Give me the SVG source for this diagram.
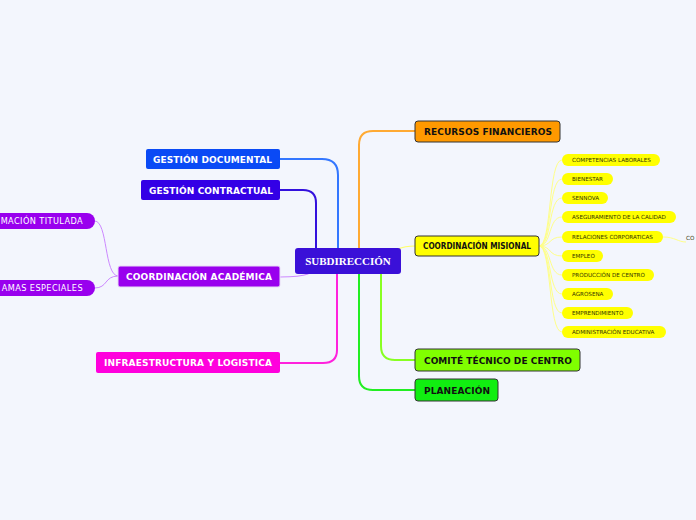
<svg xmlns="http://www.w3.org/2000/svg" width="696" height="520" viewBox="0 0 696 520">
<style>
.bg{fill:#f3f6fd}
.lb{font-family:"DejaVu Sans",Verdana,sans-serif;font-weight:bold;font-size:9px;text-anchor:middle}
.w{fill:#ffffff}
.k{fill:#111111}
.rb{stroke:#333333;stroke-width:1}
.pill{fill:#ffff00}
.pt{font-family:"DejaVu Sans",Verdana,sans-serif;font-size:5.6px;fill:#333300}
.pw{font-family:"DejaVu Sans",Verdana,sans-serif;font-size:8.2px;fill:#ffffff;letter-spacing:0.4px}
.c{fill:none;stroke-linecap:round}
</style>
<rect class="bg" x="0" y="0" width="696" height="520"/>
<g id="connectors">
<path class="c" d="M280,159 H322 Q338,159 338,175 V248" stroke="#3377ff" stroke-width="2"/>
<path class="c" d="M280,190 H303 Q316,190 316,203 V248" stroke="#3311dd" stroke-width="2"/>
<path class="c" d="M415,131 H373 Q359,131 359,145 V248" stroke="#ffaa33" stroke-width="2"/>
<path class="c" d="M398,249 C405,246 410,246 415,246" stroke="#ffff66" stroke-width="1.2"/>
<path class="c" d="M308,274 Q300,277 280,277" stroke="#cc88ff" stroke-width="1.2"/>
<path class="c" d="M337,274 V350 Q337,363 323,363 H280" stroke="#ff22dd" stroke-width="2"/>
<path class="c" d="M359,274 V376 Q359,390 373,390 H415" stroke="#22ee22" stroke-width="2"/>
<path class="c" d="M381,274 V346 Q381,360 395,360 H415" stroke="#88ff22" stroke-width="2"/>
<path class="c" d="M95,221 C108,221 104,276 118,276" stroke="#cc88ff" stroke-width="1"/>
<path class="c" d="M95,288 C108,288 104,276 118,276" stroke="#cc88ff" stroke-width="1"/>
<g stroke="#ffff88" stroke-width="1" fill="none">
<path d="M539,246 C552,246 548,160 562,160"/>
<path d="M539,246 C552,246 548,179 562,179"/>
<path d="M539,246 C552,246 548,198 562,198"/>
<path d="M539,246 C552,246 548,217 562,217"/>
<path d="M539,246 C552,246 548,237 562,237"/>
<path d="M539,246 C552,246 548,256 562,256"/>
<path d="M539,246 C552,246 548,275 562,275"/>
<path d="M539,246 C552,246 548,294 562,294"/>
<path d="M539,246 C552,246 548,313 562,313"/>
<path d="M539,246 C552,246 548,332 562,332"/>
<path d="M663,237 C675,237 678,242 686,242"/>
</g>
</g>
<g id="subdireccion">
<rect x="295" y="248" width="106" height="26" rx="3" fill="#3a10d8"/>
<text x="348" y="265" font-family="'Liberation Serif','DejaVu Serif',serif" font-weight="bold" font-size="11" fill="#ffffff" text-anchor="middle">SUBDIRECCIÓN</text>
</g>
<g id="gestion-documental">
<rect x="146" y="149" width="134" height="20" rx="2" fill="#0a4af5"/>
<text class="lb w" x="212.5" y="162.5" textLength="119" lengthAdjust="spacing">GESTIÓN DOCUMENTAL</text>
</g>
<g id="gestion-contractual">
<rect x="141" y="180" width="139" height="20" rx="2" fill="#3300e6"/>
<text class="lb w" x="211" y="193.5" textLength="124" lengthAdjust="spacing">GESTIÓN CONTRACTUAL</text>
</g>
<g id="coordinacion-academica">
<rect x="118" y="266" width="162" height="21" rx="2" fill="#9900ee" stroke="#e8dcf5" stroke-width="1"/>
<text class="lb w" x="199" y="279.5" textLength="146" lengthAdjust="spacing">COORDINACIÓN ACADÉMICA</text>
</g>
<g id="infraestructura">
<rect x="96" y="352" width="184" height="21" rx="2" fill="#ff00dd"/>
<text class="lb w" x="188" y="366" textLength="168" lengthAdjust="spacing">INFRAESTRUCTURA Y LOGISTICA</text>
</g>
<g id="formacion-titulada">
<rect x="-40" y="213" width="135" height="16" rx="8" fill="#9900ee"/>
<text class="pw" x="83" y="224" text-anchor="end">MACIÓN TITULADA</text>
</g>
<g id="programas-especiales">
<rect x="-40" y="280" width="135" height="16" rx="8" fill="#9900ee"/>
<text class="pw" x="83" y="291" text-anchor="end">AMAS ESPECIALES</text>
</g>
<g id="recursos-financieros">
<rect class="rb" x="415" y="121" width="145" height="21" rx="3" fill="#ff9900"/>
<text class="lb k" x="488" y="135" textLength="128" lengthAdjust="spacing">RECURSOS FINANCIEROS</text>
</g>
<g id="coordinacion-misional">
<rect class="rb" x="415" y="236" width="124" height="20" rx="3" fill="#ffff00"/>
<text class="lb k" x="477" y="249" font-size="6.8" textLength="108" lengthAdjust="spacingAndGlyphs">COORDINACIÓN MISIONAL</text>
</g>
<g id="comite-tecnico">
<rect class="rb" x="415" y="349" width="165" height="22" rx="3" fill="#80ff00"/>
<text class="lb k" x="498" y="363.5" textLength="148" lengthAdjust="spacing">COMITÉ TÉCNICO DE CENTRO</text>
</g>
<g id="planeacion">
<rect class="rb" x="415" y="379" width="83" height="22" rx="3" fill="#11ee11"/>
<text class="lb k" x="457" y="393.5" textLength="66" lengthAdjust="spacing">PLANEACIÓN</text>
</g>
<g id="competencias"><rect class="pill" x="562" y="154" width="98" height="12" rx="6"/><text class="pt" x="572" y="162">COMPETENCIAS LABORALES</text></g>
<g id="bienestar"><rect class="pill" x="562" y="173" width="51" height="12" rx="6"/><text class="pt" x="572" y="181">BIENESTAR</text></g>
<g id="sennova"><rect class="pill" x="562" y="192" width="46" height="12" rx="6"/><text class="pt" x="572" y="200">SENNOVA</text></g>
<g id="aseguramiento"><rect class="pill" x="562" y="211" width="114" height="12" rx="6"/><text class="pt" x="572" y="219">ASEGURAMIENTO DE LA CALIDAD</text></g>
<g id="relaciones"><rect class="pill" x="562" y="231" width="101" height="12" rx="6"/><text class="pt" x="572" y="239">RELACIONES CORPORATICAS</text></g>
<g id="empleo"><rect class="pill" x="562" y="250" width="41" height="12" rx="6"/><text class="pt" x="572" y="258">EMPLEO</text></g>
<g id="produccion"><rect class="pill" x="562" y="269" width="92" height="12" rx="6"/><text class="pt" x="572" y="277">PRODUCCIÓN DE CENTRO</text></g>
<g id="agrosena"><rect class="pill" x="562" y="288" width="51" height="12" rx="6"/><text class="pt" x="572" y="296">AGROSENA</text></g>
<g id="emprendimiento"><rect class="pill" x="562" y="307" width="71" height="12" rx="6"/><text class="pt" x="572" y="315">EMPRENDIMIENTO</text></g>
<g id="administracion"><rect class="pill" x="562" y="326" width="104" height="12" rx="6"/><text class="pt" x="572" y="334">ADMINISTRACIÓN EDUCATIVA</text></g>
<g id="co"><text class="pt" x="686" y="240" font-size="5.3">CO</text></g>
</svg>
